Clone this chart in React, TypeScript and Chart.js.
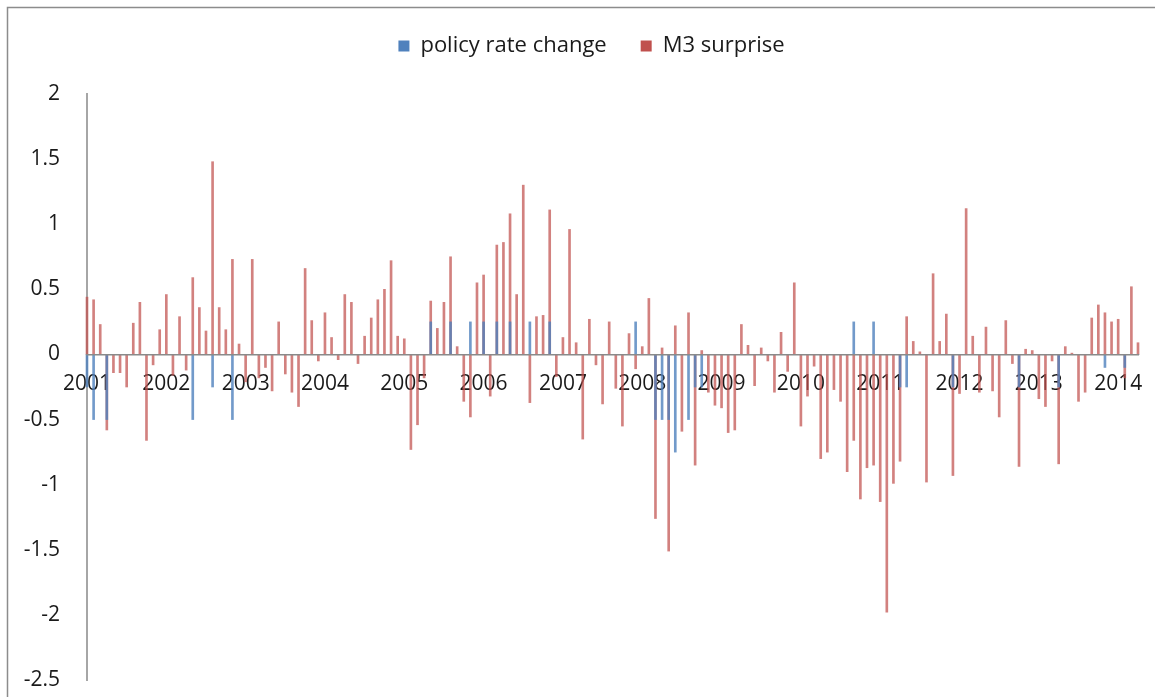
import { useEffect, useRef } from "react";
import { Chart, registerables } from "chart.js";

Chart.register(...registerables);

// Monthly categories (Aug 2001 – Nov 2014)
const months = [
  "2001-08", "2001-09", "2001-10", "2001-11", "2001-12",
  "2002-01", "2002-02", "2002-03", "2002-04", "2002-05", "2002-06", "2002-07", "2002-08", "2002-09", "2002-10", "2002-11", "2002-12",
  "2003-01", "2003-02", "2003-03", "2003-04", "2003-05", "2003-06", "2003-07", "2003-08", "2003-09", "2003-10", "2003-11", "2003-12",
  "2004-01", "2004-02", "2004-03", "2004-04", "2004-05", "2004-06", "2004-07", "2004-08", "2004-09", "2004-10", "2004-11", "2004-12",
  "2005-01", "2005-02", "2005-03", "2005-04", "2005-05", "2005-06", "2005-07", "2005-08", "2005-09", "2005-10", "2005-11", "2005-12",
  "2006-01", "2006-02", "2006-03", "2006-04", "2006-05", "2006-06", "2006-07", "2006-08", "2006-09", "2006-10", "2006-11", "2006-12",
  "2007-01", "2007-02", "2007-03", "2007-04", "2007-05", "2007-06", "2007-07", "2007-08", "2007-09", "2007-10", "2007-11", "2007-12",
  "2008-01", "2008-02", "2008-03", "2008-04", "2008-05", "2008-06", "2008-07", "2008-08", "2008-09", "2008-10", "2008-11", "2008-12",
  "2009-01", "2009-02", "2009-03", "2009-04", "2009-05", "2009-06", "2009-07", "2009-08", "2009-09", "2009-10", "2009-11", "2009-12",
  "2010-01", "2010-02", "2010-03", "2010-04", "2010-05", "2010-06", "2010-07", "2010-08", "2010-09", "2010-10", "2010-11", "2010-12",
  "2011-01", "2011-02", "2011-03", "2011-04", "2011-05", "2011-06", "2011-07", "2011-08", "2011-09", "2011-10", "2011-11", "2011-12",
  "2012-01", "2012-02", "2012-03", "2012-04", "2012-05", "2012-06", "2012-07", "2012-08", "2012-09", "2012-10", "2012-11", "2012-12",
  "2013-01", "2013-02", "2013-03", "2013-04", "2013-05", "2013-06", "2013-07", "2013-08", "2013-09", "2013-10", "2013-11", "2013-12",
  "2014-01", "2014-02", "2014-03", "2014-04", "2014-05", "2014-06", "2014-07", "2014-08", "2014-09", "2014-10", "2014-11",
];

// Months with a policy rate change, and the size of the change
const policyDates = [
  "2001-08", "2001-09", "2001-11", "2002-12", "2003-03", "2003-06",
  "2005-12", "2006-03", "2006-06", "2006-08", "2006-10", "2006-12", "2007-03", "2007-06", "2008-07",
  "2008-10", "2008-11", "2008-12", "2009-01", "2009-03", "2009-04", "2009-05",
  "2011-04", "2011-07", "2011-11", "2011-12", "2012-07", "2013-05", "2013-11", "2014-06", "2014-09",
];
const policyChanges = [
  -0.25, -0.5, -0.5, -0.5, -0.25, -0.5,
  0.25, 0.25, 0.25, 0.25, 0.25, 0.25, 0.25, 0.25, 0.25,
  -0.5, -0.5, -0.5, -0.75, -0.5, -0.25, -0.25,
  0.25, 0.25, -0.25, -0.25, -0.25, -0.25, -0.25, -0.1, -0.1,
];

// M3 surprise, one value per month
const m3Surprise = [
  0.44, 0.42, 0.23, -0.58, -0.14,
  -0.14, -0.25, 0.24, 0.40, -0.66, -0.08, 0.19, 0.46, -0.16, 0.29, -0.12, 0.59,
  0.36, 0.18, 1.48, 0.36, 0.19, 0.73, 0.08, -0.21, 0.73, -0.18, -0.10, -0.28,
  0.25, -0.15, -0.29, -0.40, 0.66, 0.26, -0.05, 0.32, 0.13, -0.04, 0.46, 0.40,
  -0.07, 0.14, 0.28, 0.42, 0.50, 0.72, 0.14, 0.12, -0.73, -0.54, -0.18, 0.41,
  0.20, 0.40, 0.75, 0.06, -0.36, -0.48, 0.55, 0.61, -0.32, 0.84, 0.86, 1.08,
  0.46, 1.30, -0.37, 0.29, 0.30, 1.11, -0.17, 0.13, 0.96, 0.09, -0.65, 0.27,
  -0.08, -0.38, 0.25, -0.26, -0.55, 0.16, -0.11, 0.06, 0.43, -1.26, 0.05, -1.51,
  0.22, -0.59, 0.32, -0.85, 0.03, -0.29, -0.39, -0.41, -0.60, -0.58, 0.23, 0.07,
  -0.24, 0.05, -0.05, -0.29, 0.17, -0.13, 0.55, -0.55, -0.32, -0.09, -0.80, -0.75,
  -0.27, -0.36, -0.90, -0.66, -1.11, -0.87, -0.85, -1.13, -1.98, -0.99, -0.82, 0.29,
  0.10, 0.02, -0.98, 0.62, 0.10, 0.31, -0.93, -0.30, 1.12, 0.14, -0.29, 0.21,
  -0.28, -0.48, 0.26, -0.07, -0.86, 0.04, 0.03, -0.34, -0.40, -0.05, -0.84, 0.06,
  0.01, -0.36, -0.29, 0.28, 0.38, 0.32, 0.25, 0.27, -0.18, 0.52, 0.09,
];

const yTicks = [-2.5, -2, -1.5, -1, -0.5, 0, 0.5, 1, 1.5, 2];
const seriesNames = ["policy rate change", "M3 surprise"];

const FONT = "'Open Sans', 'DejaVu Sans', sans-serif";
const BLUE = "#4F81BD";
const RED = "#C0504D";

export default function App() {
  const ref = useRef<HTMLCanvasElement>(null);

  useEffect(() => {
    const policyData = months.map((m) => {
      const k = policyDates.indexOf(m);
      return k >= 0 ? policyChanges[k] : 0;
    });

    const helper = {
      id: "helper",
      beforeUpdate(chart: any) {
        const lg = chart.legend;
        if (lg && !lg.__patched) {
          const orig = lg.fit;
          lg.fit = function () {
            orig.call(this);
            this.height += 27;
          };
          lg.__patched = true;
        }
      },
      afterLayout(chart: any) {
        const lg = chart.legend;
        if (lg) {
          lg.left += 22;
          lg.right += 22;
        }
      },
      afterDraw(chart: any) {
        const ctx = chart.ctx;
        ctx.save();
        ctx.strokeStyle = "#8c8c8c";
        ctx.lineWidth = 1.5;
        ctx.beginPath();
        ctx.moveTo(7.5, chart.height + 2);
        ctx.lineTo(7.5, 7.5);
        ctx.lineTo(chart.width + 2, 7.5);
        ctx.stroke();
        ctx.restore();
      },
    };

    const chart = new Chart(ref.current!, {
      type: "bar",
      data: {
        labels: months,
        datasets: [
          {
            label: seriesNames[0],
            data: policyData,
            backgroundColor: "rgba(79,129,189,0.8)",
            borderWidth: 0,
            barThickness: 2,
            grouped: false,
            clip: false,
          } as any,
          {
            label: seriesNames[1],
            data: m3Surprise,
            backgroundColor: "rgba(192,80,77,0.72)",
            borderWidth: 0,
            barThickness: 2,
            grouped: false,
            clip: false,
          } as any,
        ],
      },
      options: {
        animation: false,
        responsive: false,
        maintainAspectRatio: false,
        events: [],
        layout: { padding: { top: 1, right: 16, bottom: 17, left: 0 } },
        plugins: {
          tooltip: { enabled: false },
          legend: {
            position: "top",
            align: "center",
            labels: {
              boxWidth: 11,
              boxHeight: 11,
              padding: 34,
              color: "#1a1a1a",
              font: { family: FONT, size: 22 },
              generateLabels: (c: any) => {
                const items = Chart.defaults.plugins.legend.labels.generateLabels(c);
                items.forEach((it: any, i: number) => {
                  it.fillStyle = i === 0 ? BLUE : RED;
                  it.strokeStyle = i === 0 ? BLUE : RED;
                  it.lineWidth = 0;
                });
                return items;
              },
            },
          },
        },
        scales: {
          x: {
            type: "category",
            position: { y: 0 } as any,
            offset: false,
            grid: { display: false, drawTicks: false },
            border: { display: true, color: "#8a8a8a", width: 1.5, z: 1 } as any,
            ticks: {
              autoSkip: false,
              maxRotation: 0,
              minRotation: 0,
              padding: 17,
              color: "#1a1a1a",
              font: { family: FONT, size: 21 },
              callback: (_v: any, idx: number) => (idx % 12 === 0 ? months[idx].slice(0, 4) : ""),
            },
          },
          y: {
            min: -2.5,
            max: 2,
            afterBuildTicks: (s: any) => {
              s.ticks = yTicks.map((v) => ({ value: v }));
            },
            afterFit: (s: any) => {
              s.width = 87;
            },
            grid: { display: false, drawTicks: true, tickLength: 27 },
            border: { display: true, color: "#a6a6a6", width: 2 },
            ticks: {
              padding: 0,
              color: "#1a1a1a",
              font: { family: FONT, size: 21 },
              callback: (v: any) => String(v),
            },
          },
        },
      },
      plugins: [helper],
    });

    return () => chart.destroy();
  }, []);

  return (
    <div style={{ position: "fixed", left: 0, top: 0, width: 1155, height: 697, background: "#ffffff" }}>
      <canvas ref={ref} width={1155} height={697} style={{ display: "block" }} />
    </div>
  );
}
